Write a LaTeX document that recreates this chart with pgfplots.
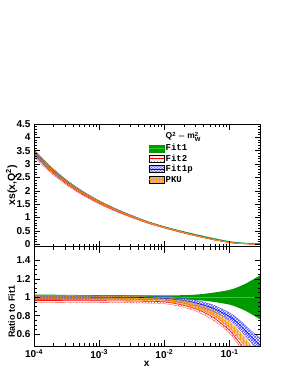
\documentclass[border=0pt]{standalone}
\usepackage{pgfplots}
\pgfplotsset{compat=1.18}
\usepackage{pgfplotstable}
\usepgfplotslibrary{fillbetween}
\usetikzlibrary{patterns}
\usepackage{fontspec}
\setmainfont{Liberation Sans}
\newfontfamily\monob{Liberation Mono}

\definecolor{fitgreen}{RGB}{0,153,0}
\definecolor{fitgreenl}{RGB}{40,210,40}
\definecolor{pkuorange}{RGB}{255,160,0}
\definecolor{pkutan}{RGB}{215,160,110}

% ---------- top panel: xs(x,Q^2) ----------
\pgfplotstableread{
x lo c hi
0.0001 3.347 3.45 3.554
0.000178 2.770 2.85 2.930
0.000316 2.289 2.35 2.411
0.000562 1.893 1.94 1.987
0.001 1.565 1.60 1.635
0.00178 1.283 1.31 1.338
0.00316 1.039 1.06 1.081
0.00562 0.818 0.835 0.852
0.01 0.637 0.65 0.663
0.0178 0.483 0.494 0.505
0.0316 0.342 0.353 0.364
0.0562 0.209 0.22 0.231
0.1 0.093 0.101 0.109
0.133 0.058 0.065 0.072
0.178 0.034 0.04 0.046
0.237 0.022 0.028 0.034
0.3 0.015 0.02 0.025
}\fitAtop
\pgfplotstableread{
x lo c hi
0.0001 3.260 3.329 3.398
0.000178 2.693 2.750 2.807
0.000316 2.218 2.265 2.312
0.000562 1.829 1.868 1.907
0.001 1.507 1.539 1.571
0.00178 1.233 1.259 1.285
0.00316 0.996 1.017 1.038
0.00562 0.781 0.798 0.815
0.01 0.605 0.618 0.631
0.0178 0.443 0.454 0.465
0.0316 0.298 0.307 0.316
0.0562 0.165 0.172 0.179
0.1 0.0616 0.0646 0.0676
0.133 0.0322 0.0345 0.0368
0.178 0.0148 0.0164 0.018
0.237 0.007 0.0081 0.0092
0.3 0.0028 0.0036 0.0044
}\fitBtop
\pgfplotstableread{
x lo c hi
0.0001 3.381 3.45 3.519
0.000178 2.793 2.85 2.907
0.000316 2.303 2.35 2.397
0.000562 1.901 1.94 1.979
0.001 1.571 1.60 1.629
0.00178 1.286 1.31 1.334
0.00316 1.040 1.059 1.078
0.00562 0.817 0.832 0.847
0.01 0.631 0.644 0.657
0.0178 0.467 0.479 0.491
0.0316 0.319 0.330 0.341
0.0562 0.186 0.194 0.201
0.1 0.0758 0.0798 0.0838
0.133 0.0437 0.0468 0.0499
0.178 0.0229 0.0252 0.0275
0.237 0.0132 0.0151 0.017
0.3 0.0078 0.0094 0.011
}\fitCtop
\pgfplotstableread{
x lo c hi
0.0001 3.347 3.433 3.519
0.000178 2.765 2.836 2.907
0.000316 2.284 2.338 2.392
0.000562 1.887 1.930 1.973
0.001 1.557 1.589 1.621
0.00178 1.272 1.298 1.324
0.00316 1.026 1.047 1.068
0.00562 0.804 0.821 0.838
0.01 0.621 0.634 0.647
0.0178 0.458 0.469 0.480
0.0316 0.309 0.318 0.327
0.0562 0.176 0.183 0.190
0.1 0.0672 0.0707 0.0742
0.133 0.0371 0.0397 0.0423
0.178 0.0182 0.020 0.0218
0.237 0.0092 0.0106 0.012
0.3 0.0046 0.0056 0.0066
}\fitDtop

% ---------- bottom panel: ratio to Fit1 ----------
\pgfplotstableread{
x lo c hi
0.0001 0.970 1 1.030
0.000178 0.972 1 1.028
0.000316 0.974 1 1.026
0.000562 0.976 1 1.024
0.001 0.978 1 1.022
0.00178 0.979 1 1.021
0.00316 0.980 1 1.020
0.00562 0.980 1 1.020
0.01 0.980 1 1.020
0.0178 0.978 1 1.022
0.0316 0.970 1 1.030
0.0562 0.950 1 1.050
0.1 0.920 1 1.080
0.133 0.890 1 1.110
0.178 0.850 1 1.150
0.237 0.800 1 1.200
0.3 0.755 1 1.245
}\fitAr
\pgfplotstableread{
x lo c hi
0.0001 0.945 0.965 0.985
0.000178 0.945 0.965 0.985
0.000316 0.944 0.964 0.984
0.000562 0.943 0.963 0.983
0.001 0.942 0.962 0.982
0.00178 0.941 0.961 0.981
0.00316 0.939 0.959 0.979
0.00562 0.936 0.956 0.976
0.01 0.930 0.950 0.970
0.0178 0.898 0.920 0.942
0.0316 0.845 0.870 0.895
0.0562 0.750 0.780 0.810
0.1 0.610 0.640 0.670
0.133 0.495 0.530 0.565
0.178 0.370 0.410 0.450
0.237 0.250 0.290 0.330
0.3 0.140 0.180 0.220
}\fitBr
\pgfplotstableread{
x lo c hi
0.0001 0.980 1.000 1.020
0.000178 0.980 1.000 1.020
0.000316 0.980 1.000 1.020
0.000562 0.980 1.000 1.020
0.001 0.982 1.000 1.018
0.00178 0.982 1.000 1.018
0.00316 0.981 0.999 1.017
0.00562 0.978 0.996 1.014
0.01 0.970 0.990 1.010
0.0178 0.945 0.970 0.995
0.0316 0.905 0.935 0.965
0.0562 0.845 0.880 0.915
0.1 0.750 0.790 0.830
0.133 0.672 0.720 0.768
0.178 0.573 0.630 0.687
0.237 0.472 0.540 0.608
0.3 0.390 0.470 0.550
}\fitCr
\pgfplotstableread{
x lo c hi
0.0001 0.970 0.995 1.020
0.000178 0.970 0.995 1.020
0.000316 0.972 0.995 1.018
0.000562 0.973 0.995 1.017
0.001 0.973 0.993 1.013
0.00178 0.971 0.991 1.011
0.00316 0.968 0.988 1.008
0.00562 0.963 0.983 1.003
0.01 0.955 0.975 0.995
0.0178 0.928 0.950 0.972
0.0316 0.875 0.900 0.925
0.0562 0.800 0.830 0.860
0.1 0.665 0.700 0.735
0.133 0.570 0.610 0.650
0.178 0.455 0.500 0.545
0.237 0.330 0.380 0.430
0.3 0.230 0.280 0.330
}\fitDr

\tikzset{
  bandA/.style={fill=fitgreen, draw=none},
  bandB/.style={pattern=crosshatch dots, pattern color=red!80, draw=none},
  bandC/.style={pattern=crosshatch, pattern color=blue!70, draw=none},
  bandD/.style={pattern=vertical lines, pattern color=pkuorange, draw=none},
}

\begin{document}
\begin{tikzpicture}

% ===== upper panel =====
\begin{axis}[
  scale only axis, xmode=log, xmin=1e-4, xmax=0.3,
  enlargelimits=false, axis on top,
  axis line style={line width=0.8pt},
  tick style={black, line width=0.6pt},
  tick align=inside, major tick length=6pt, minor tick length=3pt,
  xtick pos=both, ytick pos=both,
  xtick={1e-4,1e-3,1e-2,1e-1},
  /pgf/number format/assume math mode=true,
  ticklabel style={font=\bfseries\fontsize{10}{10}\selectfont},
  at={(34pt,138.3pt)}, anchor=south west,
  width=226.7pt, height=122.7pt,
  ymin=-0.09, ymax=4.5,
  ytick={0,0.5,1,1.5,2,2.5,3,3.5,4,4.5},
  minor y tick num=4,
  xticklabels={,,,},
  ylabel={xs(x,Q\textsuperscript{2})},
  ylabel style={at={(axis description cs:-0.099,0.5)}, anchor=center,
    font=\bfseries\fontsize{10.5}{10.5}\selectfont},
  legend style={at={(0.504,0.93)}, anchor=north west, draw=none, fill=none,
    inner sep=0pt, font=\monob\bfseries\fontsize{9}{9}\selectfont,
    cells={anchor=west}, nodes={text height=6.5pt, text depth=1.5pt, inner sep=1.2pt}},
]
% Fit1
\addplot[name path=tAhi, draw=none, smooth, forget plot] table[x=x,y=hi]{\fitAtop};
\addplot[name path=tAlo, draw=none, smooth, forget plot] table[x=x,y=lo]{\fitAtop};
\addplot[bandA, forget plot] fill between[of=tAhi and tAlo];
\addplot[fitgreenl, line width=0.8pt, smooth, forget plot] table[x=x,y=c]{\fitAtop};
% Fit2
\addplot[name path=tBhi, red!70, line width=0.3pt, smooth, forget plot] table[x=x,y=hi]{\fitBtop};
\addplot[name path=tBlo, red!70, line width=0.3pt, smooth, forget plot] table[x=x,y=lo]{\fitBtop};
\addplot[bandB, forget plot] fill between[of=tBhi and tBlo];
\addplot[red, line width=0.6pt, smooth, forget plot] table[x=x,y=c]{\fitBtop};
% Fit1p
\addplot[name path=tChi, blue!70, line width=0.3pt, smooth, forget plot] table[x=x,y=hi]{\fitCtop};
\addplot[name path=tClo, blue!70, line width=0.3pt, smooth, forget plot] table[x=x,y=lo]{\fitCtop};
\addplot[bandC, forget plot] fill between[of=tChi and tClo];
\addplot[blue, line width=0.6pt, smooth, forget plot] table[x=x,y=c]{\fitCtop};
% PKU
\addplot[name path=tDhi, pkuorange, line width=0.3pt, smooth, forget plot] table[x=x,y=hi]{\fitDtop};
\addplot[name path=tDlo, pkuorange, line width=0.3pt, smooth, forget plot] table[x=x,y=lo]{\fitDtop};
\addplot[fill=pkutan, fill opacity=0.5, draw=none, forget plot] fill between[of=tDhi and tDlo];
\addplot[bandD, forget plot] fill between[of=tDhi and tDlo];
\addplot[pkuorange, line width=0.6pt, smooth, forget plot] table[x=x,y=c]{\fitDtop};

% legend
\addlegendimage{empty legend}
\addlegendentry{\raisebox{1.5pt}{\fontsize{8.5}{8.5}\selectfont$\mathbf{Q^{2}=m_{W}^{2}}$}}
\addlegendimage{legend image code/.code={
  \fill[fitgreen] (0pt,-3.5pt) rectangle (15pt,3.5pt);
  \draw[fitgreenl,line width=1pt] (0pt,0pt) -- (15pt,0pt);}}
\addlegendentry{Fit1}
\addlegendimage{legend image code/.code={
  \fill[pattern=crosshatch dots, pattern color=red!70] (0pt,-3.5pt) rectangle (15pt,3.5pt);
  \draw[red,line width=0.6pt] (0pt,0pt) -- (15pt,0pt);}}
\addlegendentry{Fit2}
\addlegendimage{legend image code/.code={
  \fill[pattern=crosshatch, pattern color=blue!60] (0pt,-3.5pt) rectangle (15pt,3.5pt);
  \draw[blue,line width=0.6pt] (0pt,0pt) -- (15pt,0pt);}}
\addlegendentry{Fit1p}
\addlegendimage{legend image code/.code={
  \fill[pkutan!80] (0pt,-3.5pt) rectangle (15pt,3.5pt);
  \fill[pattern=vertical lines, pattern color=pkuorange] (0pt,-3.5pt) rectangle (15pt,3.5pt);
  \draw[pkuorange,line width=0.6pt] (0pt,0pt) -- (15pt,0pt);}}
\addlegendentry{PKU}
\end{axis}

% ===== lower panel =====
\begin{axis}[
  scale only axis, xmode=log, xmin=1e-4, xmax=0.3,
  enlargelimits=false, axis on top,
  axis line style={line width=0.8pt},
  tick style={black, line width=0.6pt},
  tick align=inside, major tick length=6pt, minor tick length=3pt,
  xtick pos=both, ytick pos=both,
  xtick={1e-4,1e-3,1e-2,1e-1},
  /pgf/number format/assume math mode=true,
  ticklabel style={font=\bfseries\fontsize{10}{10}\selectfont},
  at={(34pt,39pt)}, anchor=south west,
  width=226.7pt, height=99.3pt,
  ymin=0.47, ymax=1.55,
  ytick={0.6,0.8,1,1.2,1.4},
  minor y tick num=3,
  xticklabels={10\textsuperscript{-4},10\textsuperscript{-3},10\textsuperscript{-2},10\textsuperscript{-1}},
  ylabel={Ratio to Fit1},
  ylabel style={at={(axis description cs:-0.099,0.345)}, anchor=center,
    font=\bfseries\fontsize{9}{9}\selectfont},
  xlabel={x},
  xlabel style={at={(axis description cs:0.497,-0.181)}, anchor=center,
    font=\bfseries\fontsize{10}{10}\selectfont},
]
% Fit1
\addplot[name path=bAhi, draw=none, smooth] table[x=x,y=hi]{\fitAr};
\addplot[name path=bAlo, draw=none, smooth] table[x=x,y=lo]{\fitAr};
\addplot[bandA] fill between[of=bAhi and bAlo];
\addplot[fitgreenl, line width=0.8pt, smooth] table[x=x,y=c]{\fitAr};
% Fit2
\addplot[name path=bBhi, red!70, line width=0.3pt, smooth] table[x=x,y=hi]{\fitBr};
\addplot[name path=bBlo, red!70, line width=0.3pt, smooth] table[x=x,y=lo]{\fitBr};
\addplot[bandB] fill between[of=bBhi and bBlo];
\addplot[red, line width=0.6pt, smooth] table[x=x,y=c]{\fitBr};
% Fit1p
\addplot[name path=bChi, blue!70, line width=0.3pt, smooth] table[x=x,y=hi]{\fitCr};
\addplot[name path=bClo, blue!70, line width=0.3pt, smooth] table[x=x,y=lo]{\fitCr};
\addplot[bandC] fill between[of=bChi and bClo];
\addplot[blue, line width=0.6pt, smooth] table[x=x,y=c]{\fitCr};
% PKU
\addplot[name path=bDhi, pkuorange, line width=0.3pt, smooth] table[x=x,y=hi]{\fitDr};
\addplot[name path=bDlo, pkuorange, line width=0.3pt, smooth] table[x=x,y=lo]{\fitDr};
\addplot[fill=pkutan, fill opacity=0.5, draw=none] fill between[of=bDhi and bDlo];
\addplot[bandD] fill between[of=bDhi and bDlo];
\addplot[pkuorange, line width=0.6pt, smooth] table[x=x,y=c]{\fitDr};
\end{axis}

\pgfresetboundingbox
\useasboundingbox (0,0) rectangle (298pt,385pt);
\end{tikzpicture}
\end{document}
